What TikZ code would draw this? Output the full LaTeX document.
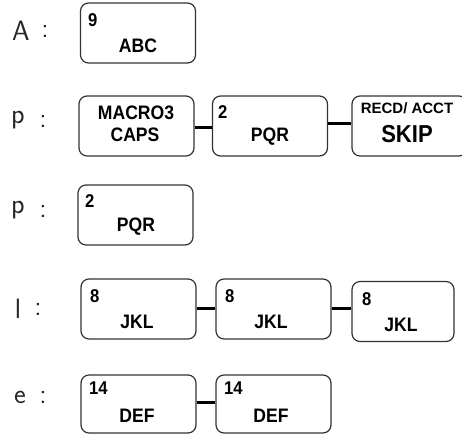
\documentclass[tikz,border=0pt]{standalone}
\usepackage{fontspec}
\setmainfont{Liberation Sans}
\newfontfamily\keyfont[FakeStretch=0.9]{Liberation Sans}
\begin{document}
\begin{tikzpicture}[x=1pt,y=-1pt,
  key/.style={draw=black!80, line width=1.2pt, rounded corners=8pt, minimum width=115pt, minimum height=60pt, inner sep=0pt},
  keyc/.style={key, minimum width=102pt},
  num/.style={font=\keyfont\fontsize{18.5}{18.5}\selectfont\bfseries, inner sep=0pt, anchor=north west},
  txt/.style={font=\keyfont\fontsize{19.5}{19.5}\selectfont\bfseries, inner sep=0pt},
  small/.style={font=\fontsize{15}{15}\selectfont\bfseries, inner sep=0pt},
  big/.style={font=\keyfont\fontsize{24.5}{24.5}\selectfont\bfseries, inner sep=0pt},
  lab/.style={font=\sffamily\fontsize{28}{28}\selectfont, inner sep=0pt, text=black!85},
  conn/.style={line width=3pt, black}]
\useasboundingbox (0,0) rectangle (462,434);
\clip (0,0) rectangle (462,434);
% row A
\node[lab] (la) at (21,31) {A};
\node[lab] (ca) at (45,31) {:};
\node[key] (a1) at (138,33) {};
\node[num] (a1n) at (88,13) {9};
\node[txt] (a1t) at (138,46) {ABC};
% row p
\node[lab] (lp1) at (18,120) {p};
\node[lab] (cp1) at (43,121) {:};
\node[key] (p1) at (136.5,126) {};
\node[txt] (p1a) at (136,113) {MACRO3};
\node[txt] (p1b) at (135,135) {CAPS};
\node[key] (p2) at (270,126) {};
\node[num] (p2n) at (218,105) {2};
\node[txt] (p2t) at (270,137) {PQR};
\node[key] (p3) at (409.5,126) {};
\node[small] (p3a) at (407,108) {RECD/ ACCT};
\node[big] (p3b) at (407,134) {SKIP};
\draw[conn] (p1.east |- 0,127) -- (p2.west |- 0,127);
\draw[conn] (p2.east |- 0,123) -- (p3.west |- 0,123);
% row p second
\node[lab] (lp2) at (18,210) {p};
\node[lab] (cp2) at (43,211) {:};
\node[key] (q1) at (135.5,215) {};
\node[num] (q1n) at (85,194) {2};
\node[txt] (q1t) at (136,227) {PQR};
% row l
\node[lab] (ll) at (18,309) {l};
\node[lab] (cl) at (38,309) {:};
\node[key] (l1) at (138.5,309) {};
\node[num] (l1n) at (90,289) {8};
\node[txt] (l1t) at (137,322) {JKL};
\node[key] (l2) at (273.5,309) {};
\node[num] (l2n) at (225,289) {8};
\node[txt] (l2t) at (271,322) {JKL};
\node[keyc] (l3) at (403,311.5) {};
\node[num] (l3n) at (362,292) {8};
\node[txt] (l3t) at (401,325) {JKL};
\draw[conn] (l1.east |- 0,308) -- (l2.west |- 0,308);
\draw[conn] (l2.east |- 0,308) -- (l3.west |- 0,308);
% row e
\node[lab] (le) at (20,397) {e};
\node[lab] (ce) at (43,397) {:};
\node[key, minimum height=58pt] (e1) at (138.5,404) {};
\node[num] (e1n) at (89,382) {14};
\node[txt] (e1t) at (137,416) {DEF};
\node[key, minimum height=58pt] (e2) at (273.5,404) {};
\node[num] (e2n) at (224,382) {14};
\node[txt] (e2t) at (271,416) {DEF};
\draw[conn] (e1.east |- 0,402) -- (e2.west |- 0,402);
\end{tikzpicture}
\end{document}
